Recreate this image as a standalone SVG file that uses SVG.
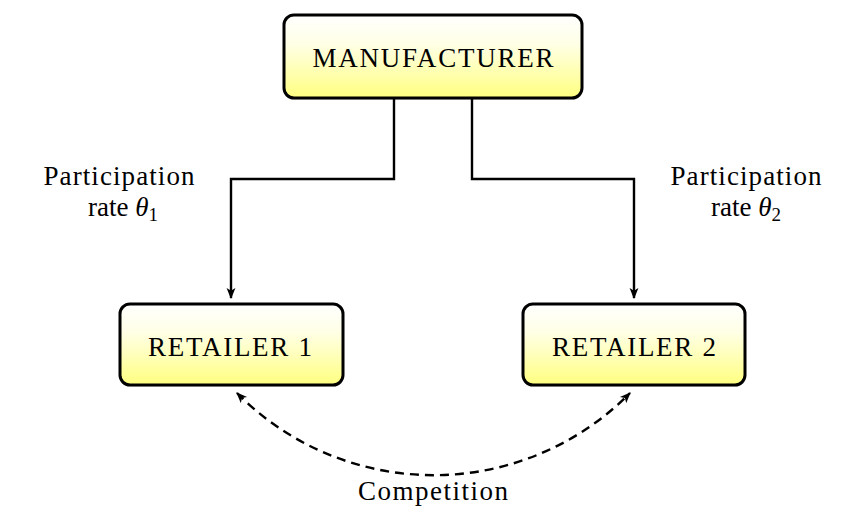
<svg xmlns="http://www.w3.org/2000/svg" width="867" height="531" viewBox="0 0 867 531">
<defs>
<linearGradient id="g" x1="0" y1="0" x2="0" y2="1">
<stop offset="0" stop-color="#ffffff"/>
<stop offset="0.35" stop-color="#ffffe6"/>
<stop offset="1" stop-color="#ffff80"/>
</linearGradient>
<marker id="ah" viewBox="0 0 10 10" refX="9" refY="5" markerWidth="11" markerHeight="11" markerUnits="userSpaceOnUse" orient="auto">
<path d="M0,1 L10,5 L0,9 L2.5,5 Z" fill="#000"/>
</marker>
<marker id="ahs" viewBox="0 0 10 10" refX="1" refY="5" markerWidth="11" markerHeight="11" markerUnits="userSpaceOnUse" orient="auto">
<path d="M10,1 L0,5 L10,9 L7.5,5 Z" fill="#000"/>
</marker>
</defs>
<style>
.box{fill:url(#g);stroke:#000;stroke-width:3}
.shadow{fill:#000;opacity:0.08}
.t{font-family:"Liberation Serif","Times New Roman",serif;font-size:27px;fill:#000;text-anchor:middle}
.lbl{font-family:"Liberation Serif","Times New Roman",serif;font-size:27px;fill:#000;text-anchor:middle}
.conn{fill:none;stroke:#000;stroke-width:2.4}
.dash{fill:none;stroke:#000;stroke-width:2.4;stroke-dasharray:9,6}
</style>
<rect width="867" height="531" fill="#fff"/>
<g id="connectors">
<path class="conn" d="M394,99 V179 H231 V298" marker-end="url(#ah)"/>
<path class="conn" d="M472,99 V179 H634 V298" marker-end="url(#ah)"/>
<path class="dash" d="M237,393 A276,276 0 0 0 630,393" marker-start="url(#ahs)" marker-end="url(#ah)"/>
</g>
<g id="manufacturer">
<rect class="shadow" x="285" y="17" width="298" height="83" rx="10"/>
<rect class="box" x="284" y="15" width="298" height="83" rx="10"/>
<text class="t" x="433" y="67" textLength="241" lengthAdjust="spacing">MANUFACTURER</text>
</g>
<g id="retailer1">
<rect class="shadow" x="121" y="306" width="223" height="81" rx="10"/>
<rect class="box" x="120" y="304" width="223" height="81" rx="10"/>
<text class="t" x="230" y="356" textLength="164" lengthAdjust="spacing">RETAILER 1</text>
</g>
<g id="retailer2">
<rect class="shadow" x="524" y="306" width="222" height="81" rx="10"/>
<rect class="box" x="523" y="304" width="222" height="81" rx="10"/>
<text class="t" x="634" y="356" textLength="164" lengthAdjust="spacing">RETAILER 2</text>
</g>
<g id="labels">
<text class="lbl" x="119" y="185" textLength="151" lengthAdjust="spacing">Participation</text>
<text class="lbl" x="123" y="216" font-size="28">rate <tspan font-style="italic">θ</tspan><tspan font-size="19" dy="5">1</tspan></text>
<text class="lbl" x="746" y="185" textLength="151" lengthAdjust="spacing">Participation</text>
<text class="lbl" x="746" y="216" font-size="28">rate <tspan font-style="italic">θ</tspan><tspan font-size="19" dy="5">2</tspan></text>
<text class="lbl" x="433" y="500" textLength="150" lengthAdjust="spacing">Competition</text>
</g>
</svg>
